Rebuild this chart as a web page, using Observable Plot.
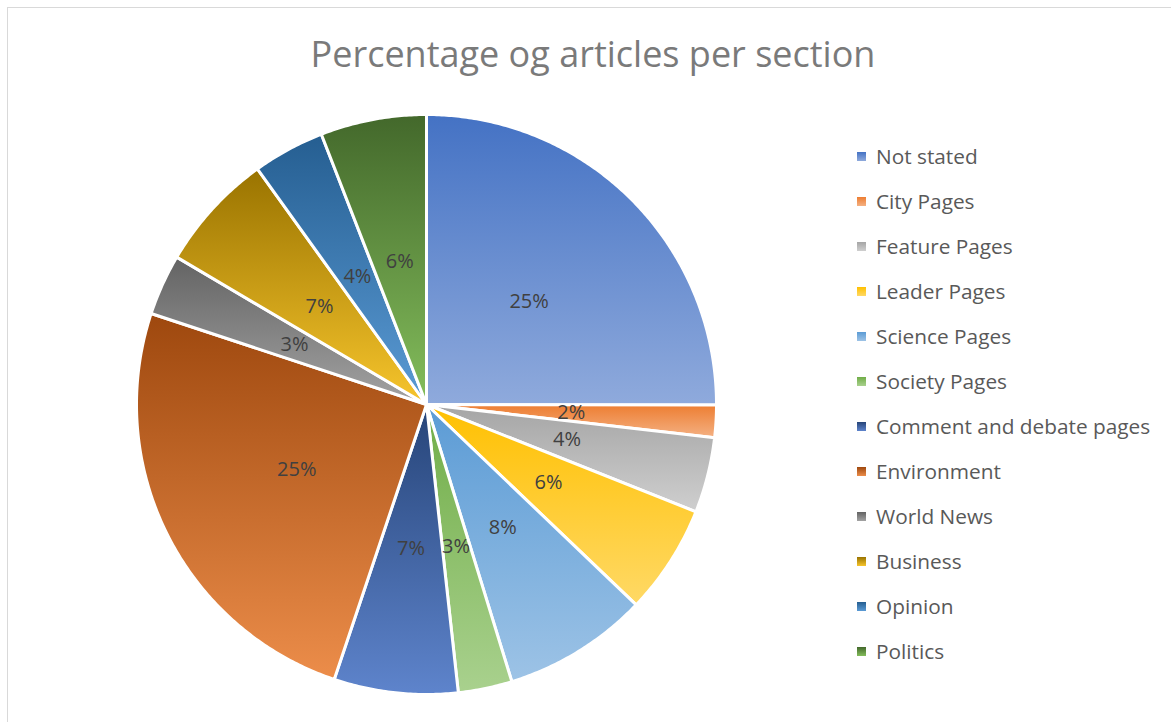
<!DOCTYPE html>
<html>
<head>
<meta charset="utf-8">
<script src="https://cdn.jsdelivr.net/npm/d3@7"></script>
<script src="https://cdn.jsdelivr.net/npm/@observablehq/plot@0.6"></script>
<style>
  html, body { margin: 0; padding: 0; background: #fff; width: 1171px; height: 722px; overflow: hidden; }
  #frame { position: absolute; left: 7px; top: 7px; width: 1200px; height: 760px; border: 1px solid #d9d9d9; box-sizing: border-box; }
  #title { position: absolute; left: 0; width: 1186px; top: 34px; text-align: center; font-family: "Open Sans", sans-serif; font-size: 36px; line-height: 40px; color: #7a7a7a; white-space: nowrap; }
  #chart { position: absolute; left: 0; top: 90px; }
  #legend { position: absolute; left: 857px; top: 0; font-family: "Open Sans", sans-serif; font-size: 20.8px; color: #595959; }
  .row { position: absolute; left: 0; height: 45px; display: flex; align-items: center; white-space: nowrap; }
  .sw { width: 9px; height: 9px; margin-right: 10px; }
</style>
</head>
<body>
<div id="frame"></div>
<div id="title">Percentage og articles per section</div>
<div id="chart"></div>
<div id="legend"></div>
<script>
const sections = ["Not stated", "City Pages", "Feature Pages", "Leader Pages", "Science Pages", "Society Pages", "Comment and debate pages", "Environment", "World News", "Business", "Opinion", "Politics"];
const shares = [25.0, 1.8, 4.2, 6.1, 8.1, 3.0, 6.9, 24.9, 3.4, 6.6, 4.0, 5.9];
const topColors = ["#4472C4", "#ED7D31", "#A5A5A5", "#FFC000", "#5B9BD5", "#70AD47", "#264478", "#9E480E", "#636363", "#997300", "#255E91", "#43682B"];
const bottomColors = ["#8FAADC", "#F4B183", "#CFCFCF", "#FFD966", "#9DC3E6", "#A9D18E", "#5E84CC", "#EC8D4A", "#A3A3A3", "#F7C52C", "#5B9BD5", "#84BE5C"];

const total = d3.sum(shares);
const arcs = d3.pie().sort(null).value(d => d)(shares);

// slice outlines in unit coordinates (y up), computed from the pie angles
const slices = arcs.map((a, i) => {
  const n = Math.max(4, Math.ceil((a.endAngle - a.startAngle) / (Math.PI / 360)));
  const pts = [{x: 0, y: 0}];
  for (let k = 0; k <= n; k++) {
    const t = a.startAngle + (a.endAngle - a.startAngle) * k / n;
    pts.push({x: Math.sin(t), y: Math.cos(t)});
  }
  return pts;
});
const labels = arcs.map((a, i) => {
  const m = (a.startAngle + a.endAngle) / 2;
  return {x: 0.5 * Math.sin(m), y: 0.5 * Math.cos(m), text: Math.round(shares[i] / total * 100) + "%"};
});

const defs = () => {
  const d = d3.create("svg:defs");
  sections.forEach((s, i) => {
    const g = d.append("linearGradient").attr("id", "g" + i).attr("x1", 0).attr("y1", 0).attr("x2", 0).attr("y2", 1);
    g.append("stop").attr("offset", "0%").attr("stop-color", topColors[i]);
    g.append("stop").attr("offset", "100%").attr("stop-color", bottomColors[i]);
  });
  return d.node();
};

const plot = Plot.plot({
  width: 840,
  height: 632,
  marginLeft: 136,
  marginRight: 124,
  marginTop: 24,
  marginBottom: 28,
  x: {domain: [-1, 1], axis: null},
  y: {domain: [-1, 1], axis: null},
  marks: [
    defs,
    ...slices.map((pts, i) => Plot.line(pts, {x: "x", y: "y", fill: `url(#g${i})`, stroke: "white", strokeWidth: 3, strokeLinejoin: "round", curve: "linear-closed"})),
    Plot.text(labels, {x: "x", y: "y", text: "text", fontSize: 20, fill: "#404040", fontFamily: "Open Sans, sans-serif"})
  ]
});
document.getElementById("chart").appendChild(plot);

const legend = document.getElementById("legend");
sections.forEach((s, i) => {
  const row = document.createElement("div");
  row.className = "row";
  row.style.top = (156 - 22.5 + i * 45) + "px";
  const sw = document.createElement("div");
  sw.className = "sw";
  sw.style.background = `linear-gradient(${topColors[i]}, ${bottomColors[i]})`;
  const tx = document.createElement("span");
  tx.textContent = s;
  row.appendChild(sw);
  row.appendChild(tx);
  legend.appendChild(row);
});
</script>
</body>
</html>
